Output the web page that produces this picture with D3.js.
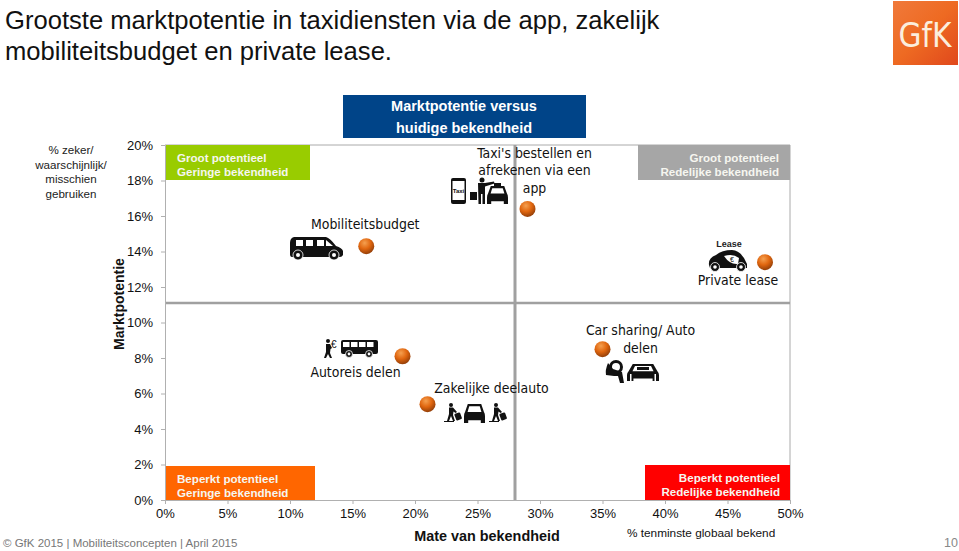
<!DOCTYPE html>
<html lang="nl">
<head>
	<title>Marktpotentie</title>
	<meta charset="utf-8">
	<style>
		html, body { margin: 0; padding: 0; background: #fff; }
		svg { display: block; }
		text { font-family: "Liberation Sans", Arial, sans-serif; }
		.lbl { font-family: "DejaVu Sans Condensed", "DejaVu Sans", sans-serif; font-size: 13.9px; fill: #111; }
		.axis text { font-size: 13px; fill: #111; }
		.axis path, .axis line { stroke: #b0b0b0; }
		.box { font-size: 11.6px; font-weight: bold; }
	</style>
</head>
<body>
	<svg id="chart" width="959" height="551"></svg>
	<script src="https://d3js.org/d3.v7.min.js"></script>
	<script>
		"use strict";

		var concepts = ["Taxi's bestellen en afrekenen via een app", "Mobiliteitsbudget", "Private lease", "Car sharing/ Auto delen", "Autoreis delen", "Zakelijke deelauto"];
		var bekendheid = [29.0, 16.1, 48.0, 35.0, 19.0, 21.0];
		var potentie = [16.4, 14.3, 13.4, 8.5, 8.1, 5.4];
		var xTicks = [0, 5, 10, 15, 20, 25, 30, 35, 40, 45, 50];
		var yTicks = [0, 2, 4, 6, 8, 10, 12, 14, 16, 18, 20];
		var splitX = 28;
		var splitY = 11.1;

		var svg = d3.select("#chart");
		var x = d3.scaleLinear().domain([0, 50]).range([165, 790]);
		var y = d3.scaleLinear().domain([0, 20]).range([500, 145]);
		var fmt = function(d){ return d + "%"; };

		// title
		var title = svg.append("g").attr("fill", "#111");
		title.append("text").attr("x", 5).attr("y", 29).style("font-size", "25.6px").text("Grootste marktpotentie in taxidiensten via de app, zakelijk");
		title.append("text").attr("x", 5).attr("y", 60).style("font-size", "25.6px").text("mobiliteitsbudget en private lease.");

		// logo
		var defs = svg.append("defs");
		var lg = defs.append("linearGradient").attr("id", "logo").attr("x1", 0).attr("y1", 0).attr("x2", 1).attr("y2", 1);
		lg.append("stop").attr("offset", "0").attr("stop-color", "#f0793a");
		lg.append("stop").attr("offset", "0.5").attr("stop-color", "#ee6a22");
		lg.append("stop").attr("offset", "1").attr("stop-color", "#e0481c");
		svg.append("rect").attr("x", 893).attr("y", 1).attr("width", 65).attr("height", 64).attr("fill", "url(#logo)");
		svg.append("text").attr("x", 925).attr("y", 47).attr("text-anchor", "middle").attr("fill", "#fbeedd")
			.style("font-family", "'DejaVu Sans Condensed'").style("font-size", "33px").text("GfK");

		// frame
		svg.append("line").attr("x1", x(0)).attr("x2", x(50)).attr("y1", y(20)).attr("y2", y(20)).attr("stroke", "#aaa").attr("stroke-width", 1);
		svg.append("line").attr("x1", x(50)).attr("x2", x(50)).attr("y1", y(20)).attr("y2", y(0)).attr("stroke", "#aaa").attr("stroke-width", 1);

		// quadrant lines
		svg.append("line").attr("x1", x(0)).attr("x2", x(50)).attr("y1", y(splitY)).attr("y2", y(splitY)).attr("stroke", "#a0a0a0").attr("stroke-width", 2.5);
		svg.append("line").attr("x1", x(splitX)).attr("x2", x(splitX)).attr("y1", y(20)).attr("y2", y(0)).attr("stroke", "#a0a0a0").attr("stroke-width", 3);

		// axes
		svg.append("g").attr("class", "axis").attr("transform", "translate(0,500)")
			.call(d3.axisBottom(x).tickValues(xTicks).tickFormat(fmt).tickSize(4).tickPadding(5));
		svg.append("g").attr("class", "axis").attr("transform", "translate(165,0)")
			.call(d3.axisLeft(y).tickValues(yTicks).tickFormat(fmt).tickSize(4).tickPadding(8));

		// corner boxes
		function box(x0, y0, w, h, fill, lines, anchor, tx){
			svg.append("rect").attr("x", x0).attr("y", y0).attr("width", w).attr("height", h).attr("fill", fill);
			lines.forEach(function(t, i){
				svg.append("text").attr("class", "box").attr("x", tx).attr("y", y0 + 17 + i * 14)
					.attr("text-anchor", anchor).attr("fill", "#f6f6f0").text(t);
			});
		}
		box(166, 145, 144, 35, "#99cc00", ["Groot potentieel", "Geringe bekendheid"], "start", 177);
		box(638, 145, 152, 35, "#a6a6a6", ["Groot potentieel", "Redelijke bekendheid"], "end", 779);
		box(166, 466, 149, 34, "#ff6600", ["Beperkt potentieel", "Geringe bekendheid"], "start", 177);
		box(645, 465, 145, 35, "#ff0000", ["Beperkt potentieel", "Redelijke bekendheid"], "end", 780);

		// header box
		svg.append("rect").attr("x", 343).attr("y", 95).attr("width", 243).attr("height", 43).attr("fill", "#004488");
		["Marktpotentie versus", "huidige bekendheid"].forEach(function(t, i){
			svg.append("text").attr("x", 464).attr("y", 111 + i * 21.5).attr("text-anchor", "middle")
				.attr("fill", "#fff").style("font-size", "14.5px").style("font-weight", "bold").text(t);
		});

		// left note
		["% zeker/", "waarschijnlijk/", "misschien", "gebruiken"].forEach(function(t, i){
			svg.append("text").attr("x", 71).attr("y", 154 + i * 14.5).attr("text-anchor", "middle")
				.attr("fill", "#222").style("font-size", "11.6px").text(t);
		});

		// axis titles
		svg.append("text").attr("transform", "translate(124,304) rotate(-90)").attr("text-anchor", "middle")
			.attr("fill", "#111").style("font-size", "14px").style("font-weight", "bold").text("Marktpotentie");
		svg.append("text").attr("x", 487).attr("y", 541).attr("text-anchor", "middle")
			.attr("fill", "#111").style("font-size", "14.4px").style("font-weight", "bold").text("Mate van bekendheid");
		svg.append("text").attr("x", 627).attr("y", 537).attr("fill", "#111").style("font-size", "11.8px").text("% tenminste globaal bekend");

		// footer
		svg.append("text").attr("x", 3).attr("y", 547).attr("fill", "#777").style("font-size", "11.5px").text("© GfK 2015 | Mobiliteitsconcepten | April 2015");
		svg.append("text").attr("x", 958).attr("y", 547).attr("text-anchor", "end").attr("fill", "#888").style("font-size", "12.5px").text("10");

		// points
		var rg = defs.append("radialGradient").attr("id", "ball").attr("cx", "0.4").attr("cy", "0.3").attr("r", "0.75");
		rg.append("stop").attr("offset", "0").attr("stop-color", "#f5a050");
		rg.append("stop").attr("offset", "0.5").attr("stop-color", "#e0660f");
		rg.append("stop").attr("offset", "1").attr("stop-color", "#8a3a08");

		// point labels: line breaks and offset from the point
		var labelLayout = [
			{ lines: ["Taxi's bestellen en", "afrekenen via een", "app"], dx: 7, dy: -51 },
			{ lines: ["Mobiliteitsbudget"], dx: -1, dy: -17 },
			{ lines: ["Private lease"], dx: -27, dy: 23 },
			{ lines: ["Car sharing/ Auto", "delen"], dx: 38, dy: -14 },
			{ lines: ["Autoreis delen"], dx: -47, dy: 21 },
			{ lines: ["Zakelijke deelauto"], dx: 64, dy: -11 }
		];
		concepts.forEach(function(c, i){
			labelLayout[i].lines.forEach(function(t, j){
				svg.append("text").attr("class", "lbl")
					.attr("x", x(bekendheid[i]) + labelLayout[i].dx)
					.attr("y", y(potentie[i]) + labelLayout[i].dy + j * 17.5)
					.attr("text-anchor", "middle").text(t);
			});
		});

		svg.selectAll("circle.pt").data(concepts).enter().append("circle").attr("class", "pt")
			.attr("cx", function(d, i){ return x(bekendheid[i]); })
			.attr("cy", function(d, i){ return y(potentie[i]); })
			.attr("r", 8).attr("fill", "url(#ball)");

		// small pictograms
		function icon(px, py, s){
			return svg.append("g").attr("transform", "translate(" + px + "," + py + ") scale(" + (s || 1) + ")").attr("fill", "#111");
		}
		function wheel(g, cx, cy, r){
			g.append("circle").attr("cx", cx).attr("cy", cy).attr("r", r).attr("fill", "#111").attr("stroke", "#fff").attr("stroke-width", 0.8);
			g.append("circle").attr("cx", cx).attr("cy", cy).attr("r", r * 0.4).attr("fill", "#fff");
		}
		function carFront(px, py, w, h){
			var g = icon(px, py);
			g.append("path").attr("d", "M" + w * 0.18 + ",0 H" + w * 0.82 + " L" + w * 0.95 + "," + h * 0.42 + " Q" + w + "," + h * 0.5 + " " + w + "," + h * 0.65 + " V" + h + " H" + w * 0.8 + " V" + h * 0.85 + " H" + w * 0.2 + " V" + h + " H0 V" + h * 0.65 + " Q0," + h * 0.5 + " " + w * 0.05 + "," + h * 0.42 + " Z");
			g.append("path").attr("d", "M" + w * 0.25 + "," + h * 0.12 + " H" + w * 0.75 + " L" + w * 0.83 + "," + h * 0.42 + " H" + w * 0.17 + " Z").attr("fill", "#fff");
			return g;
		}
		function commuter(px, py){
			var g = icon(px, py);
			g.append("circle").attr("cx", 6).attr("cy", 2).attr("r", 2);
			g.append("path").attr("d", "M4,4.5 H8 L12,9 L10.5,10 L8.5,8.5 L8,12 L10,18 H8 L6,13 L4,18 H2 L4,11 Z");
			g.append("rect").attr("x", 10).attr("y", 10).attr("width", 6).attr("height", 7).attr("rx", 1).attr("transform", "rotate(-20 13 13)");
			g.append("line").attr("x1", -1).attr("x2", 9).attr("y1", 18.5).attr("y2", 18.5).attr("stroke", "#111").attr("stroke-width", 1);
		}

		// taxi + phone
		var ph = icon(451, 178);
		ph.append("rect").attr("width", 15).attr("height", 26).attr("rx", 2);
		ph.append("rect").attr("x", 1.5).attr("y", 3).attr("width", 12).attr("height", 19).attr("fill", "#fff");
		ph.append("text").attr("x", 7.5).attr("y", 15).attr("text-anchor", "middle").style("font-size", "6px").style("font-weight", "bold").text("Taxi");
		var hail = icon(470, 177);
		hail.append("circle").attr("cx", 12).attr("cy", 3).attr("r", 2.5);
		hail.append("path").attr("d", "M8,6 H15 L24,4.5 L24.5,6.5 L15,9.5 V27 H12.5 V17 H11 V27 H8.5 Z");
		hail.append("rect").attr("x", 0).attr("y", 15).attr("width", 7).attr("height", 8);
		var taxi = carFront(487, 186, 21, 18);
		taxi.append("rect").attr("x", 7).attr("y", -3).attr("width", 7).attr("height", 3);

		// van
		var van = icon(290, 237);
		van.append("path").attr("d", "M4,0 H36 Q40,1 46,9 Q52,11 53,14 V18 Q52,20 50,20 H2 Q0,20 0,17 V6 Q0,1 4,0 Z");
		[6, 16, 27].forEach(function(wx){ van.append("rect").attr("x", wx).attr("y", 3).attr("width", 7).attr("height", 6).attr("fill", "#fff"); });
		van.append("path").attr("d", "M36,3 L43,9 H36 Z").attr("fill", "#fff");
		wheel(van, 8, 18, 5);
		wheel(van, 44, 18, 5);

		// bus + person
		var walker = icon(324, 339);
		walker.append("circle").attr("cx", 4).attr("cy", 2).attr("r", 2);
		walker.append("path").attr("d", "M2,5 H6 L8,9 L6.5,10 L6,14 L8,19 H6 L4,15 L2,19 H0 L2,13 Z");
		svg.append("text").attr("x", 331).attr("y", 348).attr("fill", "#111").style("font-size", "10px").text("€");
		var bus = icon(341, 340);
		bus.append("rect").attr("width", 37).attr("height", 14).attr("rx", 2);
		[2, 10, 18, 26].forEach(function(wx){ bus.append("rect").attr("x", wx).attr("y", 2).attr("width", 6.5).attr("height", 5).attr("fill", "#fff"); });
		wheel(bus, 8, 14, 3.5);
		wheel(bus, 28, 14, 3.5);

		// car sharing
		var keyIc = icon(605, 360);
		keyIc.append("circle").attr("cx", 11).attr("cy", 7).attr("r", 5.5).attr("fill", "none").attr("stroke", "#111").attr("stroke-width", 3);
		keyIc.append("path").attr("d", "M3,3 Q0,10 1,15 L9,16 L13,16 L15,23 L19,23 L17,12 L8,9 Z");
		var sport = carFront(627, 364, 32, 17);
		sport.append("rect").attr("x", 10).attr("y", 3).attr("width", 12).attr("height", 3);
		sport.append("rect").attr("x", 3).attr("y", 10).attr("width", 1.5).attr("height", 7).attr("fill", "#fff");
		sport.append("rect").attr("x", 27.5).attr("y", 10).attr("width", 1.5).attr("height", 7).attr("fill", "#fff");

		// deelauto
		commuter(445, 403);
		carFront(464, 404, 21, 19);
		commuter(490, 403);

		// lease car
		svg.append("text").attr("x", 729).attr("y", 247).attr("text-anchor", "middle").attr("fill", "#222")
			.style("font-size", "9px").style("font-weight", "bold").text("Lease");
		var lease = icon(708, 250);
		lease.append("path").attr("d", "M1,15 Q0,8 8,5 Q14,0 24,0 Q34,1 39,14 V18 H2 Z");
		lease.append("path").attr("d", "M16,6 Q25,3 31,8 L30,14 Q22,15 16,6 Z").attr("fill", "#fff");
		lease.append("text").attr("x", 24).attr("y", 12).attr("text-anchor", "middle").style("font-size", "7px").text("€");
		wheel(lease, 7, 17, 4.5);
		wheel(lease, 33, 17, 4.5);
	</script>
</body>
</html>
